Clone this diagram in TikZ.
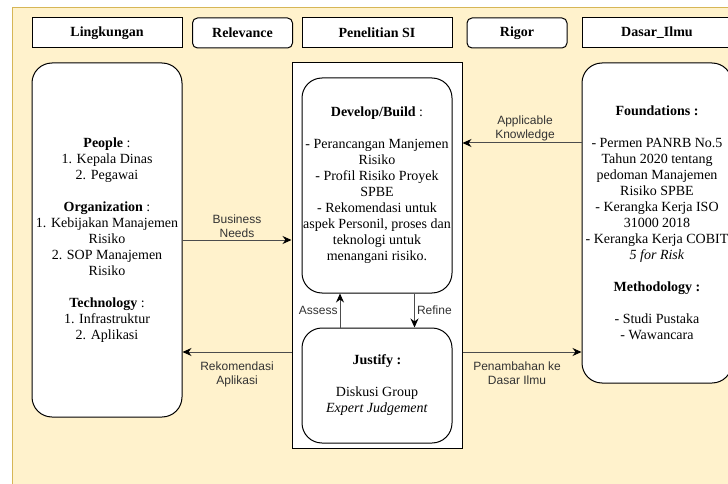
\documentclass[tikz,border=0pt]{standalone}
\usepackage{fontspec}
\setmainfont{Liberation Serif}
\newfontfamily\labelfont{Liberation Sans}
\usetikzlibrary{arrows.meta}
\definecolor{bgfill}{HTML}{FFF2CC}
\definecolor{bgline}{HTML}{D6B656}
\tikzset{
  head/.style={draw, line width=1pt, fill=white, minimum width=150pt, minimum height=30pt,
    inner sep=0pt, font=\fontsize{14}{16}\selectfont\bfseries},
  headr/.style={head, rounded corners=5pt, minimum width=100pt},
  panel/.style={draw, line width=1pt, fill=white, rounded corners=20pt, minimum width=150pt,
    inner sep=0pt, align=center, font=\fontsize{14}{16}\selectfont},
  link/.style={line width=1pt, draw=black!70, -{Stealth[length=9pt,width=8pt,color=black]}},
  lbl/.style={font=\labelfont\fontsize{12}{14}\selectfont, align=center, text=black!80, inner sep=2pt}
}

\begin{document}
\begin{tikzpicture}[x=1pt, y=-1pt]
        \useasboundingbox (0,0) rectangle (728,484);
        \fill[bgfill] (12,8) rectangle (740,495);
        \draw[bgline, line width=1pt] (12,495) -- (12,8) -- (740,8);

        \node[head]  (Env) at (107,33)   {Lingkungan};
        \node[headr] (Rel) at (242.5,33) {Relevance};
        \node[head]  (Pen) at (377,33)   {Penelitian SI};
        \node[headr] (Rig) at (517,33)   {Rigor};
        \node[head]  (Das) at (657,33)   {Dasar\_Ilmu};

        \node[draw, line width=1pt, fill=white, minimum width=170pt, minimum height=385pt] (Frame) at (377,255.5) {};

        \node[panel, minimum height=354pt] (EnvBox) at (107,240) {\textbf{People} :\\ 1. Kepala Dinas\\ 2. Pegawai\\[16pt]
                \textbf{Organization} :\\ 1. Kebijakan Manajemen\\ Risiko\\ 2. SOP Manajemen\\ Risiko\\[16pt]
                \textbf{Technology} :\\ 1. Infrastruktur\\ 2. Aplikasi};
        \node[panel, minimum height=215pt] (Build) at (377,185.5) {\textbf{Develop/Build} :\\[16pt]
                - Perancangan Manjemen\\ Risiko\\ - Profil Risiko Proyek\\ SPBE\\ - Rekomendasi untuk\\
                aspek Personil, proses dan\\ teknologi untuk\\ menangani risiko.};
        \node[panel, minimum height=115pt] (Justify) at (377,385.5) {\textbf{Justify :}\\[16pt] Diskusi Group\\ \textit{Expert Judgement}};
        \node[panel, minimum height=320pt] (Found) at (657,223) {\textbf{Foundations :}\\[16pt]
                - Permen PANRB No.5\\ Tahun 2020 tentang\\ pedoman Manajemen\\ Risiko SPBE\\ - Kerangka Kerja ISO\\
                31000 2018\\ - Kerangka Kerja COBIT\\ \textit{5 for Risk}\\[16pt]
                \textbf{Methodology :}\\[16pt] - Studi Pustaka\\ - Wawancara};

        \draw[link] (EnvBox.east) -- node[lbl, above] {Business\\ Needs} (EnvBox.east -| Frame.west);
        \draw[link] ([yshift=80pt]Found.west) -- node[lbl, above, xshift=3pt] {Applicable\\ Knowledge} ([yshift=80pt]Found.west -| Frame.east);
        \draw[link] ([yshift=-96.5pt]Frame.west) -- node[lbl, below=7pt] {Rekomendasi\\ Aplikasi} ([yshift=-96.5pt]Frame.west -| EnvBox.east);
        \draw[link] ([yshift=-96.5pt]Frame.east) -- node[lbl, below=7pt, xshift=-5pt] {Penambahan ke\\ Dasar Ilmu} ([yshift=-96.5pt]Frame.east -| Found.west);
        \draw[link] ([xshift=-37pt]Justify.north) -- node[lbl, left] {Assess} ([xshift=-37pt]Build.south);
        \draw[link] ([xshift=37.5pt]Build.south) -- node[lbl, right] {Refine} ([xshift=37.5pt]Justify.north);
\end{tikzpicture}
\end{document}
